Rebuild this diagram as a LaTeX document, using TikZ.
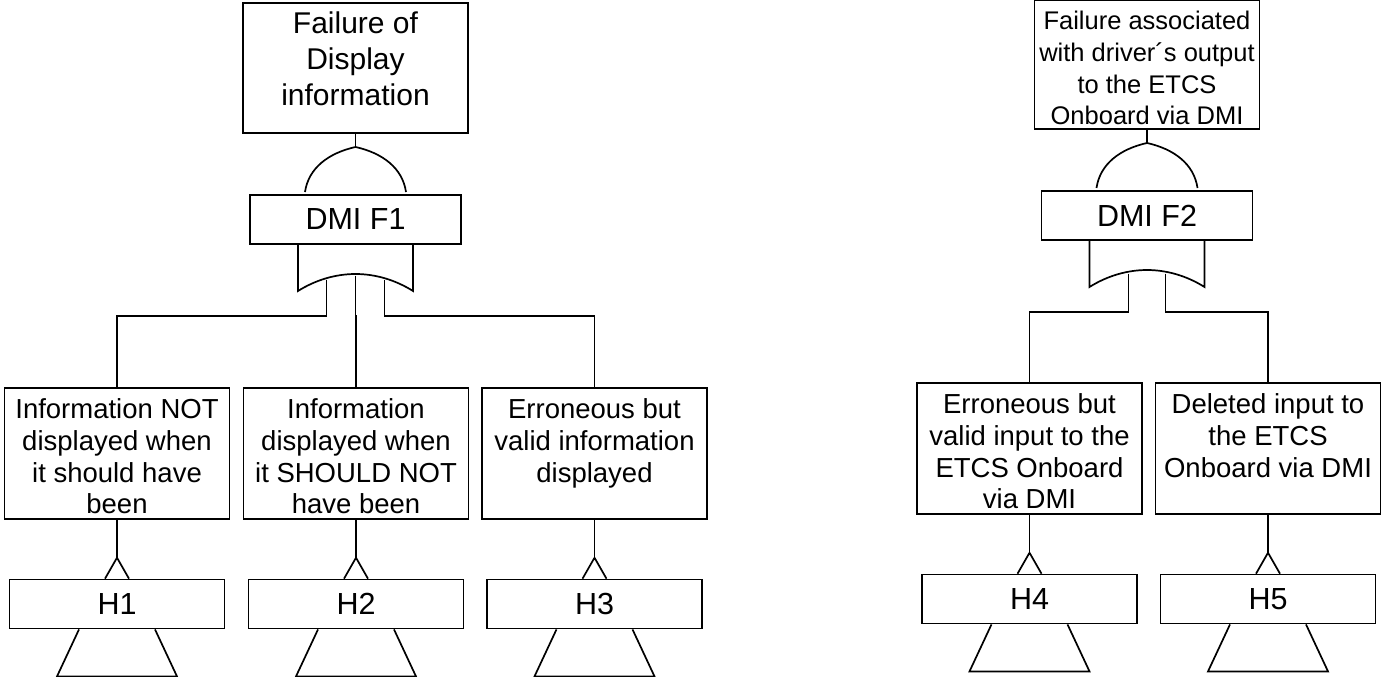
\documentclass[tikz,border=0pt]{standalone}
\usepackage{fontspec}
\setmainfont{Liberation Sans}
\usetikzlibrary{positioning}

\begin{document}
\begin{tikzpicture}[x=1pt, y=-1pt, line width=1.7pt]
	\useasboundingbox (0,0) rectangle (1381,677);
	\tikzstyle{box}=[draw=black, fill=white, inner sep=0pt]
	\tikzstyle{boxtext}=[align=center, inner sep=0pt, font=\fontsize{27.5}{31.7}\selectfont]
	\tikzstyle{gatefont}=[font=\fontsize{30.5}{34}\selectfont]
	\foreach \g/\x/\y/\txt in {1/355.5/194/{DMI F1},2/1147/190/{DMI F2}} {
	    \begin{scope}[shift={(\x,\y)}]
	    \draw (-50.5,-2) .. controls (-47,-26) and (-27,-41) .. (0,-47) .. controls (27,-41) and (47,-26) .. (50.5,-2);
	    \draw (-57.5,49) -- (-57.5,97) .. controls (-40,86) and (-20,80) .. (0,80) .. controls (20,80) and (40,86) .. (57.5,97) -- (57.5,49);
	    \node[box, gatefont, minimum width=211, minimum height=49, anchor=north] (g\g) at (0,0) {\txt};
	    \end{scope}
	}
	\node[box, minimum width=225, minimum height=130, above=60pt of g1] (top1) {};
	\node[boxtext, font=\fontsize{30}{36}\selectfont, below=9pt of top1.north] (top1t) {Failure of\\Display\\information};
	\node[box, minimum width=225, minimum height=129, above=60pt of g2] (top2) {};
	\node[boxtext, font=\fontsize{25.5}{31.7}\selectfont, below=11pt of top2.north] (top2t) {Failure associated\\with driver´s output\\to the ETCS\\Onboard via DMI};
	\foreach \g in {1,2} {
        \path (top\g) edge ([yshift=47pt]g\g.north);
	}
	\foreach \c/\x/\y/\txt in {1/117/387/{Information NOT\\displayed when\\it should have\\been},
	    2/356/387/{Information\\displayed when\\it SHOULD NOT\\have been},
	    3/594.5/387/{Erroneous but\\valid information\\displayed},
	    4/1029.5/382/{Erroneous but\\valid input to the\\ETCS Onboard\\via DMI},
	    5/1268/382/{Deleted input to\\the ETCS\\Onboard via DMI}} {
	    \node[box, minimum width=225, minimum height=131, anchor=north] (c\c) at (\x,\y) {};
	    \node[boxtext, below=11pt of c\c.north] (c\c t) {\txt};
	    \node[box, gatefont, minimum width=215, minimum height=49, below=59pt of c\c] (h\c) {H\c};
        \draw (c\c.south) -- ([yshift=21pt]h\c.north) coordinate (a\c);
        \draw (a\c) -- ++(-12,21) (a\c) -- ++(12,21);
        \draw ([xshift=-38pt]h\c.south) -- ++(-22,47) -- ++(120,0) -- ([xshift=38pt]h\c.south);
	}
	\foreach \g/\c/\dx/\dy in {1/1/-29/35,1/2/0/31,1/3/29/35,2/4/-18.5/33,2/5/18.5/33} {
        \draw ([xshift=\dx pt, yshift=-\dy pt]g\g.south) -- ([xshift=\dx pt, yshift=-71pt]g\g.south) -| (c\c.north);
	}
\end{tikzpicture}
\end{document}
